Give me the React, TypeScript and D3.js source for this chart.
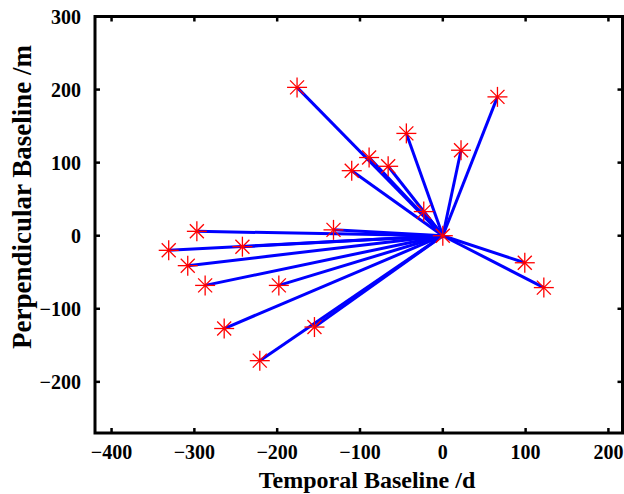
import React from "react";
import * as d3 from "d3";

const width = 624;
const height = 494;

// temporal baseline (days) and perpendicular baseline (m) of each slave image
const temporal = [-176, 66, -44, 22, -89, -66, -110, -23, -132, 99, 122, -297, -331, -242, -308, -287, -198, -264, -155, -221, 0];
const perpendicular = [203, 190, 140, 117, 107, 95, 89, 33, 8, -37, -71, 6, -20, -15, -41, -68, -68, -127, -125, -171, 0];
const master = { t: 0, p: 0 };

const xTicks = [-400, -300, -200, -100, 0, 100, 200];
const yTicks = [-200, -100, 0, 100, 200, 300];

const xScale = d3.scaleLinear().domain([-420, 217]).range([95, 622.5]);
const yScale = d3.scaleLinear().domain([-270, 300]).range([433, 16.5]);

const font = "'Liberation Serif', 'Times New Roman', serif";
const fmt = d3.format("d");

function Star({ x, y }: { x: number; y: number }) {
  const r = 10;
  const d = 7;
  return (
    <g stroke="#ff0000" strokeWidth={1.3}>
      <line x1={x - r} y1={y} x2={x + r} y2={y} />
      <line x1={x} y1={y - r} x2={x} y2={y + r} />
      <line x1={x - d} y1={y - d} x2={x + d} y2={y + d} />
      <line x1={x - d} y1={y + d} x2={x + d} y2={y - d} />
    </g>
  );
}

export default function App() {
  const [x0, x1] = xScale.range();
  const [y0, y1] = yScale.range();
  const tick = 5;
  return (
    <svg width={width} height={height} style={{ position: "absolute", left: 0, top: 0 }}>
      <rect width={width} height={height} fill="#fff" />
      {/* baselines */}
      {temporal.map((t, i) => (
        <line
          key={"l" + i}
          x1={xScale(master.t)}
          y1={yScale(master.p)}
          x2={xScale(t)}
          y2={yScale(perpendicular[i])}
          stroke="#0000ff"
          strokeWidth={3}
        />
      ))}
      {temporal.map((t, i) => (
        <Star key={"s" + i} x={xScale(t)} y={yScale(perpendicular[i])} />
      ))}
      {/* axes box */}
      <rect x={x0} y={y1} width={x1 - x0} height={y0 - y1} fill="none" stroke="#000" strokeWidth={3} />
      {xTicks.map(v => (
        <g key={"xt" + v} stroke="#000" strokeWidth={2.5}>
          <line x1={xScale(v)} x2={xScale(v)} y1={y0} y2={y0 - tick} />
          <line x1={xScale(v)} x2={xScale(v)} y1={y1} y2={y1 + tick} />
        </g>
      ))}
      {yTicks.map(v => (
        <g key={"yt" + v} stroke="#000" strokeWidth={2.5}>
          <line x1={x0} x2={x0 + tick} y1={yScale(v)} y2={yScale(v)} />
          <line x1={x1} x2={x1 - tick} y1={yScale(v)} y2={yScale(v)} />
        </g>
      ))}
      <g fontFamily={font} fontWeight="bold" fontSize={20} fill="#000">
        {xTicks.map(v => (
          <text key={"xl" + v} x={xScale(v)} y={y0 + 26} textAnchor="middle">
            {fmt(v)}
          </text>
        ))}
        {yTicks.map(v => (
          <text key={"yl" + v} x={81} y={yScale(v) + 7} textAnchor="end">
            {fmt(v)}
          </text>
        ))}
      </g>
      <g fontFamily={font} fontWeight="bold" fill="#000">
        <text x={367} y={488} textAnchor="middle" fontSize={24}>Temporal Baseline /d</text>
        <text transform="translate(31,197) rotate(-90)" textAnchor="middle" fontSize={27}>Perpendicular Baseline /m</text>
      </g>
    </svg>
  );
}
